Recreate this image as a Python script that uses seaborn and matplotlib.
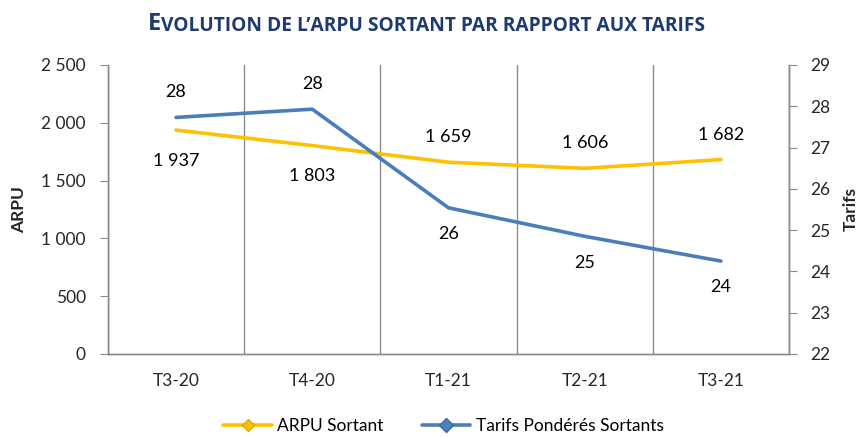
import pandas as pd
import seaborn as sns
import matplotlib.pyplot as plt
from matplotlib.ticker import FuncFormatter, FixedLocator
from matplotlib.lines import Line2D

# data
trimestres = ['T3-20', 'T4-20', 'T1-21', 'T2-21', 'T3-21']
arpu = [1937, 1803, 1659, 1606, 1682]
tarifs = [27.73, 27.93, 25.54, 24.85, 24.25]
tarifs_labels = ['28', '28', '26', '25', '24']

YELLOW = '#FFC000'
BLUE = '#4A7EBB'
GRID = '#8C8C8C'
NAVY = '#1F3A6E'
FONT = ['Lato', 'DejaVu Sans']

sns.set_style('white')
plt.rcParams['font.family'] = FONT
plt.rcParams['text.color'] = 'black'

df = pd.DataFrame({'x': range(len(trimestres)), 'arpu': arpu, 'tarifs': tarifs})

fig = plt.figure(figsize=(8.61, 4.37), dpi=100)
ax = fig.add_axes([0.1254, 0.19, 0.7910, 0.6613])
ax2 = ax.twinx()

sns.lineplot(data=df, x='x', y='arpu', ax=ax, color=YELLOW, linewidth=2.6)
sns.lineplot(data=df, x='x', y='tarifs', ax=ax2, color=BLUE, linewidth=2.6)

ax.set_xlim(-0.5, len(trimestres) - 0.5)
ax.set_ylim(0, 2500)
ax2.set_ylim(22, 29)
ax.set_yticks(range(0, 2501, 500))
ax2.set_yticks(range(22, 30))
ax.yaxis.set_major_formatter(FuncFormatter(lambda v, p: f'{int(v):,}'.replace(',', ' ')))

# category boundaries as major ticks / gridlines, labels on minor ticks
ax.xaxis.set_major_locator(FixedLocator([i - 0.5 for i in range(len(trimestres) + 1)]))
ax.xaxis.set_minor_locator(FixedLocator(list(range(len(trimestres)))))
ax.set_xticklabels([], minor=False)
ax.set_xticklabels(trimestres, minor=True)
ax.tick_params(axis='x', which='major', length=6, color=GRID, direction='out')
ax.tick_params(axis='x', which='minor', length=0, pad=14, labelsize=12.5)
ax.tick_params(axis='y', length=6, color=GRID, direction='out', labelsize=12.5, pad=10)
ax2.tick_params(axis='y', length=6, color=GRID, direction='out', labelsize=12.5, pad=9)
ax.xaxis.grid(True, which='major', color=GRID, linewidth=1)
ax.yaxis.grid(False)
ax2.grid(False)
ax.set_xlabel('')
ax.set_ylabel('ARPU', fontsize=12.5, fontweight='bold', labelpad=10)
ax2.set_ylabel('Tarifs', fontsize=12.5, fontweight='bold', labelpad=9)

for a in (ax, ax2):
    a.spines['top'].set_visible(False)
    for side in ('left', 'right', 'bottom'):
        a.spines[side].set_color(GRID)
        a.spines[side].set_linewidth(1)

# data labels
for i, v in enumerate(arpu):
    off = -22 if i < 2 else 18
    ax.annotate(f'{v:,}'.replace(',', ' '), (i, v), xytext=(0, off), textcoords='offset points',
                ha='center', va='center', fontsize=13)
for i, v in enumerate(tarifs):
    off = 18 if i < 2 else -19
    ax2.annotate(tarifs_labels[i], (i, v), xytext=(0, off), textcoords='offset points',
                 ha='center', va='center', fontsize=13)

# title with small-caps look
t1 = fig.text(0.172, 0.931, 'E', fontsize=17, fontweight='bold', color=NAVY,
              va='baseline', ha='left', family=['Open Sans', 'DejaVu Sans'])
fig.canvas.draw()
ax.annotate('VOLUTION DE L\u2019ARPU SORTANT PAR RAPPORT AUX TARIFS', xy=(1, 0), xycoords=t1,
            fontsize=13.8, fontweight='bold', color=NAVY, va='bottom', ha='left',
            family=['Open Sans', 'DejaVu Sans'], annotation_clip=False)

handles = [
    Line2D([], [], color=YELLOW, linewidth=2.6, marker='D', markersize=6,
           markerfacecolor='#F5C400', markeredgecolor='#D9A800'),
    Line2D([], [], color=BLUE, linewidth=2.6, marker='D', markersize=7,
           markerfacecolor='#4F81BD', markeredgecolor='#3A6AA0'),
]
fig.legend(handles, ['ARPU Sortant', 'Tarifs Pondérés Sortants'], loc='center',
           bbox_to_anchor=(0.515, 0.025), ncol=2, frameon=False, fontsize=12.5,
           handlelength=2.8, columnspacing=2.2, handletextpad=0.3)

fig.savefig('out.png', dpi=100)
